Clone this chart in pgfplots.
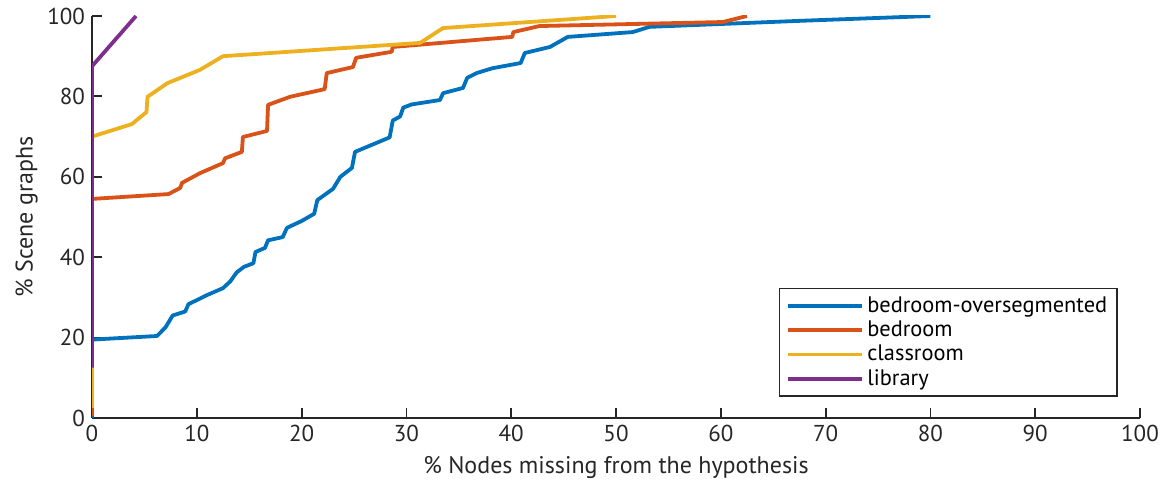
\documentclass[border=0pt]{standalone}
\usepackage{pgfplots}
\pgfplotsset{compat=1.18}
\usepackage{fontspec}
\setmainfont{PT Sans}
\definecolor{mblue}{rgb}{0,0.447,0.741}
\definecolor{morange}{rgb}{0.85,0.325,0.098}
\definecolor{myellow}{rgb}{0.929,0.694,0.125}
\definecolor{mpurple}{rgb}{0.494,0.184,0.556}
\definecolor{axgray}{HTML}{262626}
\begin{document}
\begin{tikzpicture}
\path[use as bounding box] (-46pt,-34pt) rectangle (539.5pt,209pt);
\begin{axis}[
  scale only axis,
  width=524pt, height=201pt,
  xmin=0, xmax=100, ymin=0, ymax=100,
  axis x line=bottom, axis y line=left,
  axis line style={-, axgray, line width=0.9pt},
  tick style={axgray, line width=0.9pt},
  tick align=inside,
  major tick length=5pt,
  xtick={0,10,...,100}, ytick={0,20,...,100},
  /pgf/number format/assume math mode=true,
  tick label style={font=\fontsize{11.5}{13}\selectfont, text=axgray},
  xlabel={\% Nodes missing from the hypothesis},
  ylabel={\% Scene graphs},
  label style={font=\fontsize{12}{14}\selectfont, text=axgray},
  xlabel style={yshift=-0.5pt},
  ylabel style={yshift=-2pt},
  legend cell align=left,
  legend style={at={(0.979,0.052)}, anchor=south east, draw=axgray, line width=0.8pt,
    font=\fontsize{11.2}{13}\selectfont, row sep=-1.2pt, inner xsep=3.5pt, inner ysep=2pt,
    nodes={inner xsep=1.5pt}},
  legend image code/.code={\draw[#1, line width=1.9pt] (0pt,0pt) -- (37pt,0pt);},
  every axis plot/.append style={line width=1.9pt, line join=round},
]
\addplot[mblue] coordinates {(0,0) (0,19.5) (6.2,20.4) (7.0,22.5) (7.7,25.5) (8.9,26.5) (9.2,28.3) (11,30.6) (12.5,32.3) (13.2,34) (13.8,36.2) (14.5,37.6) (15.4,38.5) (15.6,41.3) (16.5,42.3) (16.8,44.2) (18.2,45) (18.6,47.3) (20,49) (21.2,50.8) (21.5,54.2) (23,57) (23.7,60) (24.8,62.2) (25.1,66.2) (26.2,67.4) (28.4,69.8) (28.7,74) (29.4,75) (29.7,77.2) (30.5,78) (33.2,79.1) (33.5,80.8) (35.4,82.1) (35.8,84.6) (36.7,85.8) (38.2,87) (40.9,88.3) (41.3,90.8) (43.7,92.3) (45.4,94.8) (51.6,96) (53.2,97.3) (58,97.8) (67.6,98.8) (80,100)};
\addlegendentry{bedroom-oversegmented}
\addplot[morange] coordinates {(0,0.5) (0,54.5) (7.3,55.7) (8.4,57.2) (8.6,58.5) (10.3,60.9) (12.5,63.4) (12.7,64.6) (14.3,66.2) (14.4,69.9) (16.7,71.4) (16.8,77.9) (18.9,79.9) (22.2,81.8) (22.4,85.8) (24.9,87.3) (25.2,89.6) (28.6,91.1) (28.7,92.3) (40.1,94.8) (40.2,96) (42.7,97.5) (60.2,98.5) (62.5,100)};
\addlegendentry{bedroom}
\addplot[myellow] coordinates {(0,2.5) (0,70) (3.8,73.1) (5.2,76.1) (5.3,79.9) (7.2,83.3) (10.3,86.6) (12.5,90) (31.3,93.3) (33.5,97) (50,100)};
\addlegendentry{classroom}
\addplot[mpurple] coordinates {(0,12.5) (0,87.5) (4.2,100)};
\addlegendentry{library}
\end{axis}
\end{tikzpicture}
\end{document}
